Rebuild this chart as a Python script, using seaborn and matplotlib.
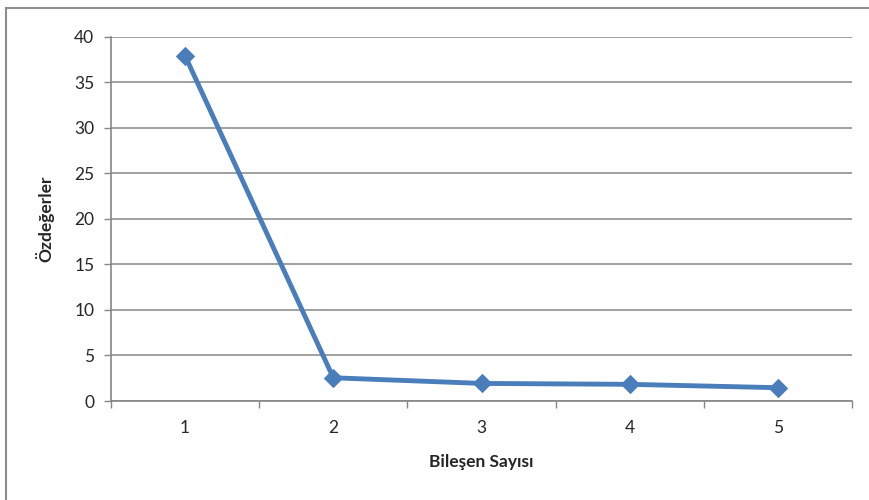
import matplotlib
matplotlib.use("Agg")
import matplotlib.pyplot as plt
import seaborn as sns
import pandas as pd
from matplotlib.patches import Rectangle

components = [1, 2, 3, 4, 5]
eigenvalues = [37.9, 2.55, 1.93, 1.83, 1.46]
y_ticks = [0, 5, 10, 15, 20, 25, 30, 35, 40]

sns.set_style("white")
plt.rcParams['font.family'] = ['Lato', 'DejaVu Sans']

df = pd.DataFrame({"Bileşen Sayısı": components, "Özdeğerler": eigenvalues})

fig = plt.figure(figsize=(8.7, 5), dpi=100)
ax = fig.add_axes([111/870, 1 - 401/500, (852 - 111)/870, (401 - 36.7)/500])

sns.lineplot(data=df, x="Bileşen Sayısı", y="Özdeğerler", ax=ax,
             color="#4a7ebb", linewidth=3.5, marker="D", markersize=9,
             markeredgecolor="#4a7ebb")

ax.set_xlim(0.5, 5.5)
ax.set_ylim(0, 40)
ax.set_yticks(y_ticks)
ax.set_xticks(components)
ax.set_xticks([0.5, 1.5, 2.5, 3.5, 4.5, 5.5], minor=True)
ax.yaxis.grid(True, color="#868686", linewidth=1.1)
ax.set_axisbelow(True)

for s in ["top", "right"]:
    ax.spines[s].set_visible(False)
for s in ["left", "bottom"]:
    ax.spines[s].set_color("#868686")
    ax.spines[s].set_linewidth(1.2)

ax.tick_params(axis="y", which="major", length=5, color="#868686", width=1,
               labelsize=12.5, pad=7, left=True)
ax.tick_params(axis="x", which="major", length=0, labelsize=12.5, pad=14)
ax.tick_params(axis="x", which="minor", length=5, color="#868686", width=1,
               bottom=True)

ax.set_xlabel("Bileşen Sayısı", fontsize=12.5, fontweight="bold", labelpad=13)
ax.set_ylabel("Özdeğerler", fontsize=12.5, fontweight="bold", labelpad=14)

fig.patches.append(Rectangle((6/870, -0.05), 1.1, 1 - 8/500 + 0.05,
                             transform=fig.transFigure, fill=False,
                             edgecolor="#8c8c8c", linewidth=1.5))

fig.savefig("out.png", dpi=100)
